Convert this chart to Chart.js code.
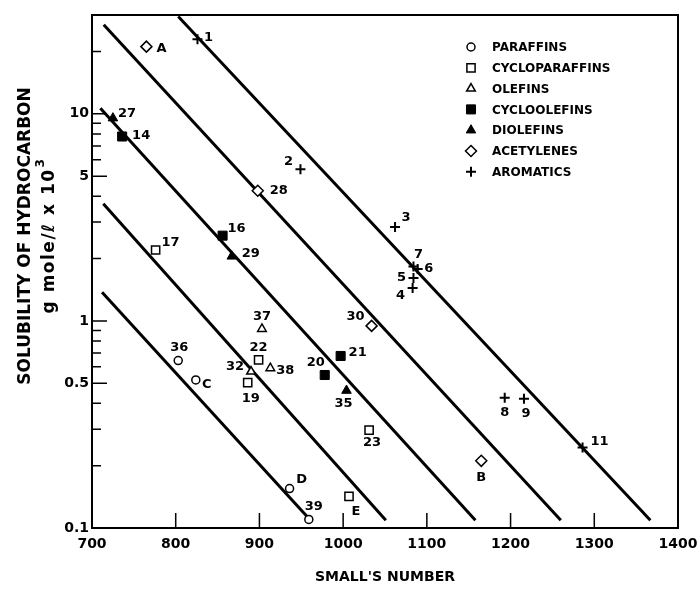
<!DOCTYPE html>
<html>
<head>
<meta charset="utf-8">
<script src="https://cdn.jsdelivr.net/npm/chart.js@4.4.0/dist/chart.umd.min.js"></script>
<style>
  html, body { margin: 0; padding: 0; background: #fff; }
  #wrap { width: 698px; height: 596px; }
</style>
</head>
<body>
<div id="wrap"><canvas id="chart"></canvas></div>
<script>
// values (Small's number vs solubility, g mole/l x 10^3)
var paraffinNames = ['36', 'C', 'D', '39'];
var paraffinX = [803, 824, 936, 959];
var paraffinY = [0.643, 0.519, 0.155, 0.110];

var cycloparaffinNames = ['17', '22', '19', '23', 'E'];
var cycloparaffinX = [776, 899, 886, 1031, 1007];
var cycloparaffinY = [2.20, 0.648, 0.503, 0.297, 0.142];

var olefinNames = ['37', '32', '38'];
var olefinX = [903, 890, 913];
var olefinY = [0.915, 0.569, 0.591];

var cycloolefinNames = ['14', '16', '20', '21'];
var cycloolefinX = [736, 856, 978, 997];
var cycloolefinY = [7.77, 2.58, 0.548, 0.677];

var diolefinNames = ['27', '29', '35'];
var diolefinX = [725, 867, 1004];
var diolefinY = [9.53, 2.05, 0.461];

var acetyleneNames = ['A', '28', '30', 'B'];
var acetyleneX = [765, 898, 1034, 1165];
var acetyleneY = [21.1, 4.25, 0.946, 0.211];

var aromaticNames = ['1', '2', '3', '7', '6', '5', '4', '8', '9', '11'];
var aromaticX = [826, 949, 1062, 1084, 1089, 1084, 1083, 1193, 1216, 1286];
var aromaticY = [22.9, 5.40, 2.84, 1.83, 1.78, 1.61, 1.44, 0.426, 0.421, 0.245];

// the five parallel correlation lines (start, end)
var lineX = [[803, 1367], [714, 1260], [710, 1158], [713.5, 1051], [712, 961]];
var lineY = [[29.5, 0.109], [26.9, 0.109], [10.65, 0.109], [3.68, 0.109], [1.376, 0.109]];

var xTickValues = [700, 800, 900, 1000, 1100, 1200, 1300, 1400];
var yTickValues = [0.1, 0.2, 0.3, 0.4, 0.5, 0.6, 0.7, 0.8, 0.9, 1, 2, 3, 4, 5, 6, 7, 8, 9, 10, 20];
var yLabelValues = [0.1, 0.5, 1, 5, 10];
var yLongTicks = [0.5, 1, 5, 10];

// where each point's name sits relative to its marker (px)
var labelOffsets = {
  'A': [15, 2], '1': [11, -2], '27': [14, -5], '14': [19, -1], '2': [-12, -8],
  '28': [21, 0], '16': [14, -7], '3': [11, -9], '17': [15, -7], '29': [19, -3],
  '37': [0, -12], '36': [1, -13], 'C': [11, 5], '22': [0, -12], '32': [-16, -5],
  '38': [15, 2], '19': [3, 16], '20': [-9, -12], '21': [17, -3], '35': [-3, 13],
  '30': [-16, -9], '23': [3, 13], 'D': [12, -9], 'E': [7, 15], '39': [5, -13],
  '7': [5, -12], '6': [11, 0], '5': [-12, 0], '4': [-12, 8], '8': [0, 15],
  '9': [2, 15], '11': [17, -6], 'B': [0, 17]
};

var FONT = '"DejaVu Sans", sans-serif';

function pts(xs, ys) {
  return xs.map(function (x, i) { return { x: x, y: ys[i] }; });
}

function pointSet(label, names, xs, ys, style, radius, filled, bw) {
  return {
    label: label,
    names: names,
    data: pts(xs, ys),
    pointStyle: style,
    pointRadius: radius,
    pointHoverRadius: radius,
    pointBorderWidth: bw,
    borderColor: '#000',
    backgroundColor: filled ? '#000' : '#fff',
    showLine: false,
    order: 0
  };
}

var datasets = [
  pointSet('PARAFFINS', paraffinNames, paraffinX, paraffinY, 'circle', 4, false, 1.5),
  pointSet('CYCLOPARAFFINS', cycloparaffinNames, cycloparaffinX, cycloparaffinY, 'rect', 5.8, false, 1.5),
  pointSet('OLEFINS', olefinNames, olefinX, olefinY, 'triangle', 5, false, 1.5),
  pointSet('CYCLOOLEFINS', cycloolefinNames, cycloolefinX, cycloolefinY, 'rect', 6.4, true, 1),
  pointSet('DIOLEFINS', diolefinNames, diolefinX, diolefinY, 'triangle', 5.5, true, 1),
  pointSet('ACETYLENES', acetyleneNames, acetyleneX, acetyleneY, 'rectRot', 5.5, false, 1.5),
  pointSet('AROMATICS', aromaticNames, aromaticX, aromaticY, 'cross', 5, false, 2)
];

lineX.forEach(function (lx, i) {
  datasets.push({
    label: 'line' + (i + 1),
    data: pts(lx, lineY[i]),
    showLine: true,
    borderColor: '#000',
    borderWidth: 3,
    pointRadius: 0,
    order: 1
  });
});

var decorations = {
  id: 'decorations',
  afterDatasetsDraw: function (chart) {
    var ctx = chart.ctx, a = chart.chartArea;
    var xs = chart.scales.x, ys = chart.scales.y;
    ctx.save();
    ctx.strokeStyle = '#000';
    ctx.fillStyle = '#000';

    // frame
    ctx.lineWidth = 2;
    ctx.strokeRect(a.left, a.top, a.right - a.left, a.bottom - a.top);

    // inward ticks
    ctx.lineWidth = 1.5;
    ctx.beginPath();
    yTickValues.forEach(function (v) {
      var py = ys.getPixelForValue(v);
      var len = yLongTicks.indexOf(v) >= 0 ? 15 : 9;
      ctx.moveTo(a.left, py);
      ctx.lineTo(a.left + len, py);
    });
    xTickValues.forEach(function (v) {
      if (v === xs.min || v === xs.max) return;
      var px = xs.getPixelForValue(v);
      ctx.moveTo(px, a.bottom);
      ctx.lineTo(px, a.bottom - 15);
    });
    ctx.stroke();

    // point names
    ctx.font = 'bold 13px ' + FONT;
    ctx.textAlign = 'center';
    ctx.textBaseline = 'middle';
    chart.data.datasets.forEach(function (ds) {
      if (!ds.names) return;
      ds.data.forEach(function (p, j) {
        var name = ds.names[j];
        var off = labelOffsets[name] || [10, 0];
        ctx.fillText(name, xs.getPixelForValue(p.x) + off[0], ys.getPixelForValue(p.y) + off[1]);
      });
    });

    // legend inside the plot, top right
    var lx = a.right - 207, tx = a.right - 186, ly = a.top + 32;
    ctx.textAlign = 'left';
    ctx.font = 'bold 12px ' + FONT;
    chart.data.datasets.forEach(function (ds, i) {
      if (!ds.names) return;
      var y = ly + i * 20.8;
      ctx.save();
      ctx.lineWidth = ds.pointBorderWidth;
      ctx.fillStyle = ds.backgroundColor;
      ctx.strokeStyle = '#000';
      Chart.helpers.drawPoint(ctx, {
        pointStyle: ds.pointStyle, radius: ds.pointRadius, rotation: 0, borderWidth: ds.pointBorderWidth
      }, lx, y);
      ctx.restore();
      ctx.fillText(ds.label, tx, y + 1);
    });

    // y axis title (two lines, with superscript)
    ctx.save();
    ctx.translate(26, 236);
    ctx.rotate(-Math.PI / 2);
    ctx.textAlign = 'center';
    ctx.font = 'bold 17px ' + FONT;
    ctx.fillText('SOLUBILITY OF HYDROCARBON', 0, 0);
    ctx.letterSpacing = '1.5px';
    ctx.font = 'bold 17px ' + FONT;
    var main = 'g mole/\u2113 x 10';
    var w1 = ctx.measureText(main).width;
    ctx.font = 'bold 12px ' + FONT;
    var w2 = ctx.measureText('3').width;
    var start = -(w1 + w2) / 2;
    ctx.textAlign = 'left';
    ctx.font = 'bold 17px ' + FONT;
    ctx.fillText(main, start, 24);
    ctx.font = 'bold 12px ' + FONT;
    ctx.fillText('3', start + w1 + 1, 15);
    ctx.restore();

    ctx.restore();
  }
};

new Chart(document.getElementById('chart'), {
  type: 'scatter',
  data: { datasets: datasets },
  options: {
    responsive: true,
    maintainAspectRatio: false,
    animation: false,
    layout: { padding: { top: 15, right: 20, left: 0, bottom: 0 } },
    plugins: {
      legend: { display: false },
      tooltip: { enabled: false }
    },
    scales: {
      x: {
        type: 'linear',
        min: 700,
        max: 1400,
        grid: { display: false, drawTicks: false },
        border: { display: false },
        afterBuildTicks: function (s) {
          s.ticks = xTickValues.map(function (v) { return { value: v }; });
        },
        ticks: {
          autoSkip: false,
          maxRotation: 0,
          padding: 8,
          color: '#000',
          font: { family: FONT, size: 14, weight: 'bold' },
          callback: function (v) { return String(v); }
        },
        title: {
          display: true,
          text: "SMALL'S NUMBER",
          color: '#000',
          font: { family: FONT, size: 14, weight: 'bold' },
          padding: { top: 4, bottom: 10 }
        },
        afterFit: function (s) {
          s.height = 68;
          s.paddingLeft = 0;
          s.paddingRight = 0;
        }
      },
      y: {
        type: 'logarithmic',
        min: 0.1,
        max: 30,
        grid: { display: false, drawTicks: false },
        border: { display: false },
        afterBuildTicks: function (s) {
          s.ticks = yTickValues.map(function (v) { return { value: v }; });
        },
        ticks: {
          autoSkip: false,
          padding: 3,
          color: '#000',
          font: { family: FONT, size: 14, weight: 'bold' },
          callback: function (v) { return yLabelValues.indexOf(v) >= 0 ? String(v) : ''; }
        },
        afterFit: function (s) {
          s.width = 92;
          s.paddingTop = 0;
          s.paddingBottom = 0;
        }
      }
    }
  },
  plugins: [decorations]
});
</script>
</body>
</html>
